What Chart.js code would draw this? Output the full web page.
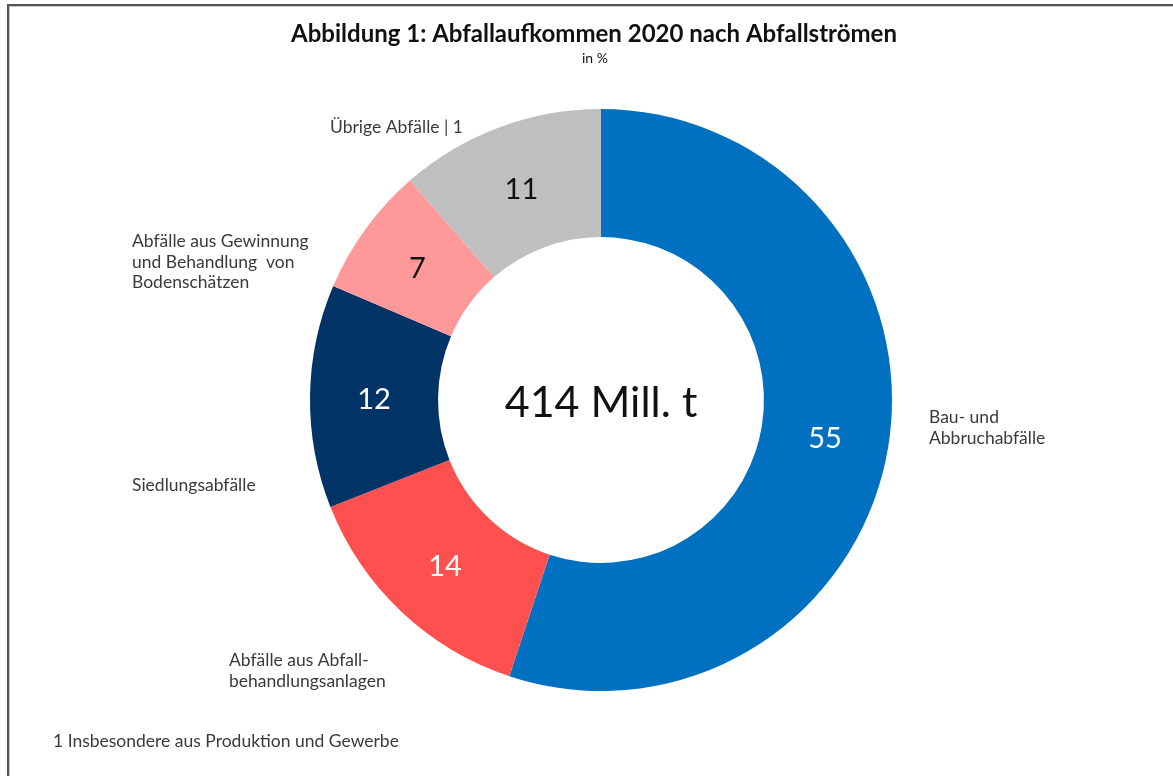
<!DOCTYPE html>
<html><head><meta charset="utf-8">
<script src="https://cdn.jsdelivr.net/npm/chart.js@4/dist/chart.umd.min.js"></script>
<style>html,body{margin:0;padding:0;background:#fff;overflow:hidden}</style>
</head><body>
<canvas id="c" width="1173" height="776"></canvas>
<script>
// ---- data ----
const categories = ['Bau- und Abbruchabfälle', 'Abfälle aus Abfallbehandlungsanlagen', 'Siedlungsabfälle', 'Abfälle aus Gewinnung und Behandlung von Bodenschätzen', 'Übrige Abfälle | 1'];
const shares = [55.1, 13.9, 12.4, 7.2, 11.4];
const shareLabels = ['55', '14', '12', '7', '11'];
const categoryLines = [['Bau- und', 'Abbruchabfälle'], ['Abfälle aus Abfall-', 'behandlungsanlagen'], ['Siedlungsabfälle'], ['Abfälle aus Gewinnung', 'und Behandlung  von', 'Bodenschätzen'], ['Übrige Abfälle | 1']];
const titleText = 'Abbildung 1: Abfallaufkommen 2020 nach Abfallströmen';
const subtitleText = 'in %';
const centerText = '414 Mill. t';
const footnoteText = '1 Insbesondere aus Produktion und Gewerbe';

// ---- styles / layout ----
const colors = ['#0070C0', '#FF5050', '#003366', '#FF9999', '#BFBFBF'];
const valueColors = ['#ffffff', '#ffffff', '#ffffff', '#111111', '#111111'];
const catPos = [[929, 423], [229, 666], [132, 247 + 244], [132, 247], [330, 133]];
const FONT = 'Lato, "Open Sans", sans-serif';

const textPlugin = {
  id: 'texts',
  beforeDraw(chart) {
    const ctx = chart.ctx;
    ctx.save();
    ctx.fillStyle = '#fff';
    ctx.fillRect(0, 0, chart.width, chart.height);
    ctx.restore();
  },
  afterDraw(chart) {
    const ctx = chart.ctx;
    ctx.save();
    // frame
    ctx.fillStyle = '#555';
    ctx.fillRect(7, 4, chart.width - 7, 2);
    ctx.fillRect(7, 4, 2, chart.height - 4);
    ctx.fillStyle = '#c8c8c8';
    ctx.fillRect(9, 6, chart.width - 9, 1);
    ctx.fillRect(9, 6, 1, chart.height - 6);

    // title
    ctx.fillStyle = '#111';
    ctx.textAlign = 'center';
    ctx.textBaseline = 'alphabetic';
    ctx.font = 'bold 24px ' + FONT;
    ctx.fillText(titleText, 594, 42);
    ctx.font = '14px ' + FONT;
    ctx.fillText(subtitleText, 595, 63);

    // center total
    const meta = chart.getDatasetMeta(0);
    const arc0 = meta.data[0];
    ctx.font = '43px ' + FONT;
    ctx.fillStyle = '#111';
    ctx.fillText(centerText, arc0.x, arc0.y + 17);

    // slice values
    ctx.font = '29px ' + FONT;
    ctx.textBaseline = 'middle';
    meta.data.forEach((arc, i) => {
      const p = arc.getCenterPoint();
      ctx.fillStyle = valueColors[i];
      ctx.fillText(shareLabels[i], p.x, p.y + 2);
    });

    // category labels
    ctx.textAlign = 'left';
    ctx.textBaseline = 'alphabetic';
    ctx.font = '17.5px ' + FONT;
    ctx.fillStyle = '#3a3a3a';
    categoryLines.forEach((lines, i) => {
      lines.forEach((ln, j) => ctx.fillText(ln, catPos[i][0], catPos[i][1] + j * 20.5));
    });

    // footnote
    ctx.fillText(footnoteText, 53, 747);
    ctx.restore();
  }
};

new Chart(document.getElementById('c'), {
  type: 'doughnut',
  data: {
    labels: categories,
    datasets: [{
      data: shares,
      backgroundColor: colors,
      borderWidth: 0,
      hoverOffset: 0,
      offset: 0
    }]
  },
  options: {
    responsive: false,
    animation: false,
    cutout: '56%',
    rotation: 0,
    layout: { padding: { left: 310, right: 281, top: 109, bottom: 85 } },
    plugins: {
      legend: { display: false },
      tooltip: { enabled: false },
      title: { display: false }
    },
    events: []
  },
  plugins: [textPlugin]
});
</script>
</body></html>
